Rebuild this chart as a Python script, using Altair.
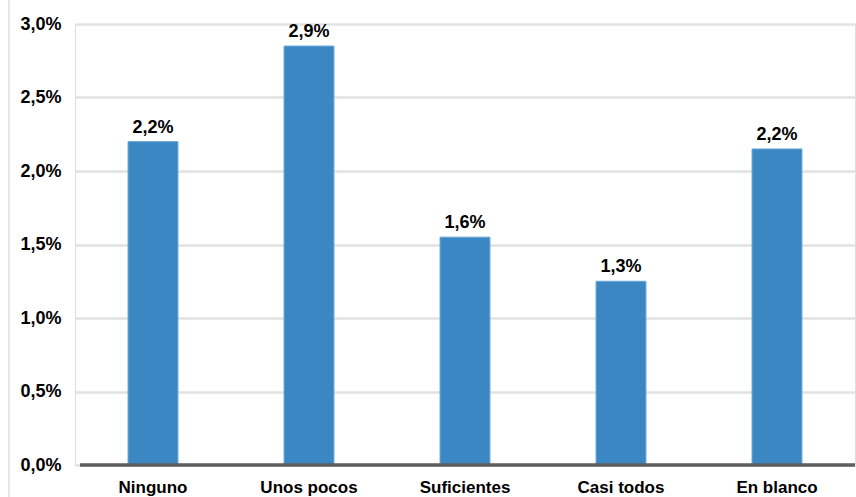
import altair as alt
import pandas as pd

# Share of respondents (%) per answer category
categories = ["Ninguno", "Unos pocos", "Suficientes", "Casi todos", "En blanco"]
values = [2.2, 2.85, 1.55, 1.25, 2.15]
y_ticks = [0.0, 0.5, 1.0, 1.5, 2.0, 2.5, 3.0]


def es_pct(v):
    return f"{round(v + 1e-9, 1):.1f}".replace(".", ",") + "%"


df = pd.DataFrame({
    "categoria": categories,
    "valor": values,
    "etiqueta": [es_pct(v) for v in values],
})

FONT = "Liberation Sans"

base = alt.Chart(df).encode(
    x=alt.X(
        "categoria:N",
        sort=categories,
        title=None,
        scale=alt.Scale(paddingInner=0.68, paddingOuter=0.34),
        axis=alt.Axis(
            labelAngle=0,
            labelFont=FONT,
            labelFontSize=17,
            labelFontWeight="bold",
            labelColor="#000000",
            labelPadding=14,
            ticks=False,
            domain=False,
            grid=False,
        ),
    ),
    y=alt.Y(
        "valor:Q",
        title=None,
        scale=alt.Scale(domain=[0, 3.0], nice=False),
        axis=alt.Axis(
            values=y_ticks,
            labelExpr="replace(format(datum.value, '.1f'), '.', ',') + '%'",
            labelFont=FONT,
            labelFontSize=18,
            labelFontWeight="bold",
            labelColor="#000000",
            labelPadding=14,
            ticks=False,
            domain=False,
            grid=True,
            gridColor="#e2e2e2",
            gridWidth=2.5,
        ),
    ),
)

bars = base.mark_bar(color="#3a87c3", stroke="#6aa9da", strokeWidth=1)

labels = base.mark_text(
    dy=-14,
    font=FONT,
    fontSize=18,
    fontWeight="bold",
    color="#000000",
).encode(text="etiqueta:N")

baseline = alt.Chart(df).mark_rule(color="#5f5f5f", strokeWidth=2.5).encode(
    x=alt.value(5), x2=alt.value(780), y=alt.value(441)
)

border = alt.Chart(df).mark_rule(color="#e6e6e6", strokeWidth=1.5).encode(
    x=alt.value(-66), y=alt.value(-24), y2=alt.value(473)
)

chart = (
    alt.layer(bars, baseline, labels, border)
    .properties(
        width=780,
        height=441,
        autosize=alt.AutoSizeParams(type="none"),
        padding={"left": 75, "top": 24, "right": 1, "bottom": 32},
    )
    .configure_view(strokeWidth=0)
    .configure(background="#ffffff")
)

chart.save("out.html", embed_options={"renderer": "svg", "actions": False})
